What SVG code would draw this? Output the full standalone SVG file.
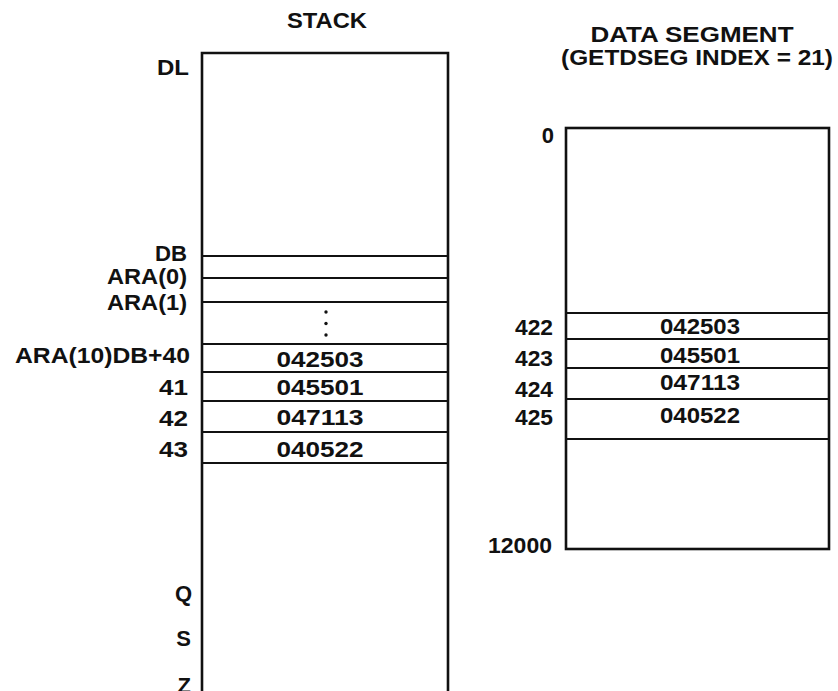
<svg xmlns="http://www.w3.org/2000/svg" width="838" height="691" viewBox="0 0 838 691">
<style>
text{font-family:"Liberation Sans",Arial,sans-serif;font-weight:bold;font-size:22px;fill:#111}
.r{text-anchor:end}
.m{text-anchor:middle}
.box{fill:none;stroke:#111;stroke-width:2.6}
.ln{stroke:#111;stroke-width:2}
</style>
<rect width="838" height="691" fill="#fff"/>
<g id="stack">
<text x="327" y="28" class="m" textLength="80" lengthAdjust="spacingAndGlyphs">STACK</text>
<path class="box" d="M202,700 V53 H448 V700"/>
<path class="ln" d="M202,256H448M202,278H448M202,302H448M202,344H448M202,372H448M202,401H448M202,432H448M202,463H448"/>
<circle cx="326" cy="312" r="1.7" fill="#111"/>
<circle cx="326" cy="323.5" r="1.7" fill="#111"/>
<circle cx="326" cy="335" r="1.7" fill="#111"/>
<text x="320" y="367" class="m" textLength="87" lengthAdjust="spacingAndGlyphs">042503</text>
<text x="320" y="395" class="m" textLength="87" lengthAdjust="spacingAndGlyphs">045501</text>
<text x="320" y="425" class="m" textLength="87" lengthAdjust="spacingAndGlyphs">047113</text>
<text x="320" y="457" class="m" textLength="87" lengthAdjust="spacingAndGlyphs">040522</text>
</g>
<g id="stack-labels">
<text x="189" y="75" class="r" textLength="32" lengthAdjust="spacingAndGlyphs">DL</text>
<text x="187" y="261" class="r" textLength="32" lengthAdjust="spacingAndGlyphs">DB</text>
<text x="187" y="284" class="r" textLength="80" lengthAdjust="spacingAndGlyphs">ARA(0)</text>
<text x="187" y="310" class="r" textLength="80" lengthAdjust="spacingAndGlyphs">ARA(1)</text>
<text x="190" y="363" class="r" textLength="175" lengthAdjust="spacingAndGlyphs">ARA(10)DB+40</text>
<text x="188" y="395" class="r" textLength="29" lengthAdjust="spacingAndGlyphs">41</text>
<text x="188" y="426" class="r" textLength="29" lengthAdjust="spacingAndGlyphs">42</text>
<text x="188" y="457" class="r" textLength="29" lengthAdjust="spacingAndGlyphs">43</text>
<text x="192" y="601" class="r">Q</text>
<text x="191" y="646" class="r">S</text>
<text x="191" y="693" class="r">Z</text>
</g>
<g id="dataseg">
<text x="692" y="42" class="m" textLength="203" lengthAdjust="spacingAndGlyphs">DATA SEGMENT</text>
<text x="697" y="65" class="m" textLength="272" lengthAdjust="spacingAndGlyphs">(GETDSEG INDEX = 21)</text>
<rect class="box" x="566" y="128" width="263" height="421"/>
<path class="ln" d="M566,313H829M566,339H829M566,368H829M566,399H829M566,439H829"/>
<text x="700" y="334" class="m" textLength="80" lengthAdjust="spacingAndGlyphs">042503</text>
<text x="700" y="363" class="m" textLength="80" lengthAdjust="spacingAndGlyphs">045501</text>
<text x="700" y="390" class="m" textLength="80" lengthAdjust="spacingAndGlyphs">047113</text>
<text x="700" y="423" class="m" textLength="80" lengthAdjust="spacingAndGlyphs">040522</text>
</g>
<g id="dataseg-labels">
<text x="554" y="143" class="r">0</text>
<text x="553" y="335" class="r" textLength="38" lengthAdjust="spacingAndGlyphs">422</text>
<text x="553" y="366" class="r" textLength="38" lengthAdjust="spacingAndGlyphs">423</text>
<text x="553" y="397" class="r" textLength="38" lengthAdjust="spacingAndGlyphs">424</text>
<text x="553" y="425" class="r" textLength="38" lengthAdjust="spacingAndGlyphs">425</text>
<text x="552" y="553" class="r" textLength="64" lengthAdjust="spacingAndGlyphs">12000</text>
</g>
</svg>
